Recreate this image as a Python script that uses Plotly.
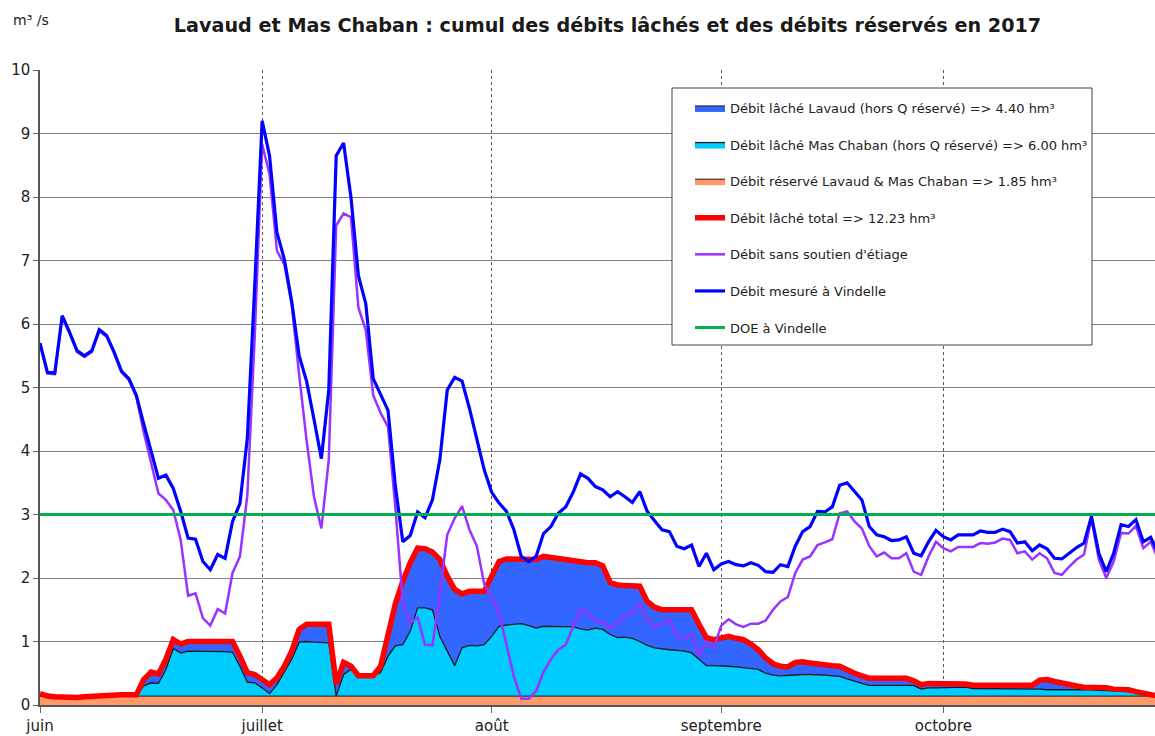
import pandas as pd
import plotly.graph_objects as go

# Daily values, 1 June -> 30 October 2017 (m3/s)
dates = pd.date_range("2017-06-01", periods=152, freq="D")

debit_mesure_vindelle = [
    5.70, 5.24, 5.23, 6.13, 5.87, 5.58, 5.50, 5.58, 5.91, 5.82,
    5.56, 5.26, 5.14, 4.88, 4.43, 4.01, 3.57, 3.62, 3.41, 3.05,
    2.63, 2.61, 2.26, 2.13, 2.37, 2.31, 2.89, 3.17, 4.20, 6.60,
    9.20, 8.65, 7.44, 7.02, 6.35, 5.50, 5.10, 4.50, 3.88, 4.96,
    8.65, 8.85, 7.99, 6.76, 6.32, 5.14, 4.90, 4.64, 3.44, 2.57,
    2.67, 3.04, 2.95, 3.23, 3.86, 4.96, 5.16, 5.10, 4.67, 4.20,
    3.70, 3.35, 3.18, 3.05, 2.76, 2.34, 2.26, 2.34, 2.70, 2.81,
    3.02, 3.12, 3.35, 3.64, 3.57, 3.44, 3.39, 3.28, 3.36, 3.28,
    3.19, 3.36, 3.05, 2.90, 2.76, 2.73, 2.50, 2.46, 2.52, 2.18,
    2.39, 2.13, 2.22, 2.26, 2.21, 2.19, 2.24, 2.20, 2.10, 2.09,
    2.21, 2.18, 2.50, 2.73, 2.81, 3.05, 3.04, 3.12, 3.46, 3.50,
    3.36, 3.23, 2.81, 2.68, 2.65, 2.59, 2.60, 2.65, 2.39, 2.35,
    2.57, 2.75, 2.65, 2.60, 2.68, 2.68, 2.68, 2.74, 2.72, 2.72,
    2.77, 2.73, 2.55, 2.57, 2.43, 2.52, 2.46, 2.31, 2.30, 2.39,
    2.48, 2.55, 2.97, 2.39, 2.10, 2.39, 2.84, 2.81, 2.92, 2.57,
    2.64, 2.40,
]

debit_sans_soutien = [
    5.68, 5.22, 5.21, 6.11, 5.85, 5.56, 5.48, 5.56, 5.89, 5.80,
    5.54, 5.24, 5.12, 4.86, 4.30, 3.80, 3.33, 3.23, 3.07, 2.60,
    1.72, 1.76, 1.37, 1.25, 1.51, 1.44, 2.08, 2.34, 3.30, 5.80,
    8.83, 8.36, 7.15, 6.94, 6.30, 5.20, 4.17, 3.28, 2.78, 3.86,
    7.55, 7.74, 7.68, 6.26, 5.90, 4.88, 4.60, 4.38, 3.10, 1.60,
    1.29, 1.38, 0.95, 0.94, 1.76, 2.68, 2.94, 3.13, 2.76, 2.50,
    1.90, 1.70, 1.45, 0.95, 0.45, 0.10, 0.10, 0.22, 0.52, 0.72,
    0.87, 0.95, 1.24, 1.51, 1.45, 1.32, 1.32, 1.21, 1.30, 1.40,
    1.45, 1.61, 1.32, 1.24, 1.27, 1.35, 1.08, 1.06, 1.11, 0.77,
    1.00, 0.90, 1.25, 1.35, 1.27, 1.23, 1.28, 1.28, 1.33, 1.50,
    1.63, 1.70, 2.08, 2.29, 2.34, 2.52, 2.56, 2.61, 3.02, 3.05,
    2.89, 2.78, 2.50, 2.34, 2.40, 2.31, 2.31, 2.39, 2.10, 2.05,
    2.34, 2.57, 2.47, 2.42, 2.49, 2.49, 2.49, 2.55, 2.54, 2.56,
    2.62, 2.60, 2.39, 2.42, 2.29, 2.39, 2.31, 2.08, 2.05, 2.18,
    2.29, 2.37, 2.94, 2.29, 2.00, 2.26, 2.71, 2.70, 2.82, 2.47,
    2.57, 2.30,
]

debit_reserve = [0.14] * 152

lache_mas_chaban = [
    0.00, 0.00, 0.00, 0.00, 0.00, 0.00, 0.00, 0.00, 0.00, 0.00,
    0.00, 0.00, 0.00, 0.00, 0.16, 0.21, 0.20, 0.42, 0.75, 0.68,
    0.71, 0.71, 0.71, 0.71, 0.70, 0.70, 0.69, 0.47, 0.22, 0.21,
    0.13, 0.04, 0.18, 0.37, 0.58, 0.85, 0.86, 0.85, 0.84, 0.84,
    0.00, 0.34, 0.42, 0.32, 0.32, 0.32, 0.37, 0.63, 0.79, 0.81,
    1.02, 1.39, 1.39, 1.36, 0.94, 0.71, 0.48, 0.76, 0.80, 0.79,
    0.81, 0.94, 1.10, 1.12, 1.13, 1.14, 1.11, 1.07, 1.10, 1.10,
    1.10, 1.10, 1.09, 1.06, 1.04, 1.07, 1.05, 0.97, 0.92, 0.93,
    0.91, 0.86, 0.80, 0.76, 0.74, 0.73, 0.72, 0.71, 0.68, 0.58,
    0.48, 0.48, 0.48, 0.47, 0.46, 0.45, 0.44, 0.42, 0.36, 0.33,
    0.32, 0.33, 0.34, 0.34, 0.34, 0.34, 0.33, 0.32, 0.31, 0.27,
    0.23, 0.20, 0.17, 0.17, 0.17, 0.17, 0.17, 0.17, 0.17, 0.11,
    0.13, 0.13, 0.13, 0.13, 0.14, 0.14, 0.12, 0.12, 0.12, 0.12,
    0.11, 0.11, 0.11, 0.11, 0.11, 0.11, 0.10, 0.10, 0.10, 0.11,
    0.10, 0.10, 0.10, 0.09, 0.09, 0.08, 0.08, 0.07, 0.06, 0.02,
    0.00, 0.00,
]

lache_lavaud = [
    0.04, 0.00, 0.00, 0.00, 0.00, 0.00, 0.00, 0.00, 0.01, 0.01,
    0.02, 0.02, 0.02, 0.02, 0.10, 0.17, 0.15, 0.16, 0.14, 0.14,
    0.15, 0.15, 0.15, 0.15, 0.15, 0.15, 0.17, 0.16, 0.15, 0.13,
    0.13, 0.14, 0.11, 0.10, 0.13, 0.20, 0.27, 0.28, 0.29, 0.29,
    0.19, 0.19, 0.05, 0.00, 0.00, 0.00, 0.10, 0.37, 0.67, 1.00,
    1.08, 0.94, 0.93, 0.91, 1.21, 1.18, 1.20, 0.85, 0.85, 0.86,
    0.84, 0.95, 1.02, 1.04, 1.03, 1.02, 1.05, 1.08, 1.10, 1.08,
    1.06, 1.04, 1.03, 1.04, 1.06, 1.03, 1.00, 0.82, 0.83, 0.81,
    0.82, 0.87, 0.69, 0.64, 0.62, 0.63, 0.64, 0.65, 0.68, 0.55,
    0.44, 0.41, 0.44, 0.47, 0.45, 0.44, 0.38, 0.31, 0.24, 0.18,
    0.15, 0.13, 0.19, 0.20, 0.18, 0.16, 0.15, 0.16, 0.16, 0.14,
    0.13, 0.12, 0.11, 0.11, 0.11, 0.11, 0.11, 0.11, 0.07, 0.07,
    0.07, 0.07, 0.08, 0.08, 0.07, 0.05, 0.05, 0.05, 0.05, 0.04,
    0.05, 0.05, 0.05, 0.05, 0.06, 0.14, 0.16, 0.13, 0.10, 0.06,
    0.06, 0.04, 0.04, 0.04, 0.04, 0.03, 0.03, 0.03, 0.01, 0.03,
    0.01, 0.00,
]

debit_lache_total = [
    0.18, 0.14, 0.13, 0.12, 0.11, 0.12, 0.13, 0.14, 0.15, 0.15,
    0.16, 0.16, 0.16, 0.16, 0.40, 0.52, 0.49, 0.72, 1.03, 0.96,
    1.00, 1.00, 1.00, 1.00, 0.99, 0.99, 1.00, 0.77, 0.51, 0.48,
    0.40, 0.32, 0.43, 0.61, 0.85, 1.19, 1.27, 1.27, 1.27, 1.27,
    0.33, 0.67, 0.61, 0.46, 0.46, 0.46, 0.61, 1.14, 1.60, 1.95,
    2.24, 2.47, 2.46, 2.41, 2.29, 2.03, 1.82, 1.75, 1.79, 1.79,
    1.79, 2.03, 2.26, 2.30, 2.30, 2.30, 2.30, 2.29, 2.34, 2.32,
    2.30, 2.28, 2.26, 2.24, 2.24, 2.24, 2.19, 1.93, 1.89, 1.88,
    1.87, 1.87, 1.63, 1.54, 1.50, 1.50, 1.50, 1.50, 1.50, 1.27,
    1.06, 1.03, 1.06, 1.08, 1.05, 1.03, 0.96, 0.87, 0.74, 0.65,
    0.61, 0.60, 0.67, 0.68, 0.66, 0.64, 0.62, 0.62, 0.61, 0.55,
    0.50, 0.46, 0.42, 0.42, 0.42, 0.42, 0.42, 0.42, 0.38, 0.32,
    0.34, 0.34, 0.35, 0.35, 0.35, 0.33, 0.31, 0.31, 0.31, 0.30,
    0.30, 0.30, 0.30, 0.30, 0.31, 0.39, 0.40, 0.37, 0.34, 0.31,
    0.30, 0.28, 0.28, 0.27, 0.27, 0.25, 0.25, 0.24, 0.21, 0.19,
    0.15, 0.14,
]

doe_vindelle = [3.0] * 152

month_ticks = ["2017-06-01", "2017-07-01", "2017-08-01", "2017-09-01", "2017-10-01"]
month_labels = ["juin", "juillet", "août", "septembre", "octobre"]

FONT = "DejaVu Sans"

# plot area in pixels: left 40, width 1115, bottom 705, height 635
PL, PW, PB, PH = 40, 1115, 705, 635


def px_x(px):
    return (px - PL) / PW


def px_y(py):
    return (PB - py) / PH


fig = go.Figure()

# Stacked areas: reserved flow, Mas Chaban release, Lavaud release
fig.add_trace(go.Scatter(
    x=dates, y=debit_reserve, stackgroup="cumul", mode="lines",
    line=dict(color="#1a1a1a", width=1), fillcolor="#FF9966",
    name="Débit réservé Lavaud & Mas Chaban => 1.85 hm³",
    legendgroup="g3", legendrank=3,
))
fig.add_trace(go.Scatter(
    x=dates, y=lache_mas_chaban, stackgroup="cumul", mode="lines",
    line=dict(color="#1a1a1a", width=1.3), fillcolor="#00CCFF",
    name="Débit lâché Mas Chaban (hors Q réservé) => 6.00 hm³",
    legendgroup="g2", legendrank=2,
))
fig.add_trace(go.Scatter(
    x=dates, y=lache_lavaud, stackgroup="cumul", mode="lines",
    line=dict(color="#1a1a1a", width=1), fillcolor="#3366FF",
    name="Débit lâché Lavaud (hors Q réservé) => 4.40 hm³",
    legendgroup="g1", legendrank=1,
))

fig.add_trace(go.Scatter(
    x=dates, y=debit_lache_total, mode="lines",
    line=dict(color="#FF0000", width=5.5),
    name="Débit lâché total => 12.23 hm³",
    legendgroup="g4", legendrank=4,
))
fig.add_trace(go.Scatter(
    x=dates, y=debit_sans_soutien, mode="lines",
    line=dict(color="#9933FF", width=2.5),
    name="Débit sans soutien d'étiage",
    legendgroup="g5", legendrank=5,
))
fig.add_trace(go.Scatter(
    x=dates, y=debit_mesure_vindelle, mode="lines",
    line=dict(color="#0000FF", width=3.2),
    name="Débit mesuré à Vindelle",
    legendgroup="g6", legendrank=6,
))
fig.add_trace(go.Scatter(
    x=dates, y=doe_vindelle, mode="lines",
    line=dict(color="#00B050", width=3),
    name="DOE à Vindelle",
    legendgroup="g7", legendrank=7,
))

fig.update_layout(
    width=1155, height=736,
    margin=dict(l=PL, r=0, t=70, b=31),
    paper_bgcolor="white", plot_bgcolor="white",
    font=dict(family=FONT, color="#222222"),
    title=dict(
        text="<b>Lavaud et Mas Chaban : cumul des débits lâchés et des débits réservés en 2017</b>",
        x=0.526, xanchor="center", y=0.966, yanchor="middle",
        font=dict(family=FONT, size=19.2, color="#1a1a1a"),
    ),
    showlegend=True,
    legend=dict(
        x=px_x(690), xanchor="left",
        y=px_y(93), yanchor="top",
        bgcolor="rgba(0,0,0,0)", borderwidth=0,
        font=dict(family=FONT, size=13, color="#222222"),
        tracegroupgap=16.7, itemwidth=30,
        traceorder="grouped",
    ),
    shapes=[dict(
        type="rect", xref="paper", yref="paper", layer="above",
        x0=px_x(672), x1=px_x(1092), y0=px_y(345), y1=px_y(88),
        fillcolor="white", line=dict(color="#444444", width=1),
    )],
    annotations=[dict(
        text="m³ /s", xref="paper", yref="paper",
        x=px_x(11), y=px_y(20), xanchor="left", yanchor="middle",
        showarrow=False, font=dict(family=FONT, size=14, color="#222222"),
    )],
)

fig.update_xaxes(
    type="date",
    range=["2017-06-01", "2017-10-29 14:00"],
    tickvals=month_ticks, ticktext=month_labels,
    showgrid=True, gridcolor="#555555", griddash="dot", gridwidth=1,
    ticks="outside", ticklen=6, tickcolor="#666666",
    showline=True, linecolor="#555555", linewidth=1.5,
    tickfont=dict(family=FONT, size=15, color="#222222"),
    zeroline=False,
)
fig.update_yaxes(
    range=[0, 10], dtick=1, tick0=0,
    showgrid=True, gridcolor="#808080", gridwidth=1.3,
    ticks="outside", ticklen=5, tickcolor="#666666",
    showline=True, linecolor="#555555", linewidth=1.5,
    tickfont=dict(family=FONT, size=15, color="#222222"),
    zeroline=False,
)

fig.write_html("out.html")
